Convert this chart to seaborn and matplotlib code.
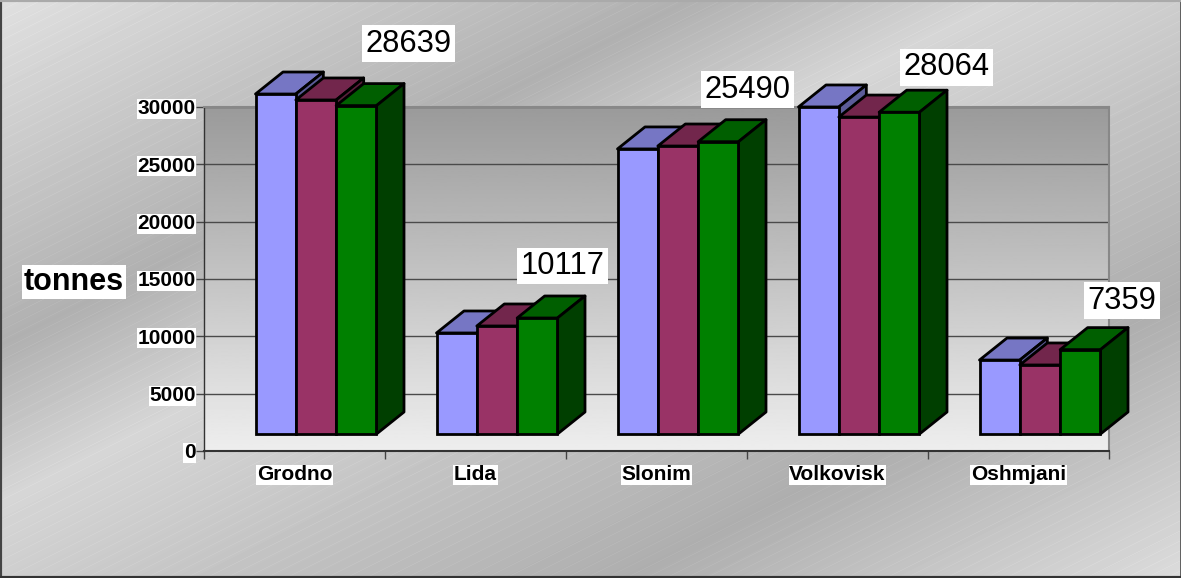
import numpy as np
import pandas as pd
import matplotlib
matplotlib.use("Agg")
import matplotlib.pyplot as plt
from matplotlib.patches import Polygon
from matplotlib.transforms import ScaledTranslation
import seaborn as sns

# ---- data ----
districts = ["Grodno", "Lida", "Slonim", "Volkovisk", "Oshmjani"]
series_a = [29650, 8810, 24860, 28520, 6450]
series_b = [29130, 9420, 25115, 27640, 6020]
series_c = [28639, 10117, 25490, 28064, 7359]
series_names = ["Series A", "Series B", "Series C"]
y_ticks = [0, 5000, 10000, 15000, 20000, 25000, 30000]

# ---- style ----
W, H, DPI = 1181, 578, 100
front_colors = ["#9999FF", "#993366", "#008000"]
top_colors = ["#7676C4", "#72264C", "#005F00"]
side_colors = ["#5C5C99", "#5C1F3D", "#003F00"]
label_offsets_px = [(52, 62), (25, 52), (29.5, 52), (47.5, 45), (41.5, 49)]
SHIFT_X, SHIFT_Y = 21.5, 17    # front plane of bars relative to the axis, px
DEPTH_X, DEPTH_Y = 27.5, 22    # 3D depth, px
EDGE = 2.0

sns.set_style("white")
plt.rcParams["font.family"] = ["Liberation Sans", "DejaVu Sans"]

fig = plt.figure(figsize=(W / DPI, H / DPI), dpi=DPI)

# figure background: banded diagonal gradient with fine light stripes
bg = fig.add_axes([0, 0, 1, 1], zorder=-3)
yy, xx = np.mgrid[0:H, 0:W]
phase = xx + 2.0 * yy
shade = np.interp(phase, [0, 690, 1000, 1780, 2337], [224, 176, 214, 174, 220])
stripes = ((phase.astype(int) % 20) < 2) * 5
bg.imshow(np.clip(shade + stripes, 0, 255), cmap="gray", vmin=0, vmax=255,
          aspect="auto", interpolation="nearest", extent=(0, 1, 0, 1))
bg.set_xticks([])
bg.set_yticks([])
for name, col, lw in [("left", "#444444", 3), ("bottom", "#333333", 3),
                      ("right", "#555555", 2), ("top", "#AAAAAA", 3)]:
    bg.spines[name].set_visible(True)
    bg.spines[name].set_color(col)
    bg.spines[name].set_linewidth(lw)

# plot area
L, R, T, B = 204, 1109, 107, 451
pos = [L / W, 1 - B / H, (R - L) / W, (B - T) / H]
wall = fig.add_axes(pos, zorder=-2)
wall.imshow(np.linspace(154, 238, 256).reshape(-1, 1), cmap="gray", vmin=0, vmax=255,
            aspect="auto", extent=(0, 1, 0, 1))
wall.axis("off")

ax = fig.add_axes(pos, zorder=1)
ax.patch.set_alpha(0)

df = pd.DataFrame({
    "district": districts * 3,
    "tonnes": series_a + series_b + series_c,
    "series": np.repeat(series_names, len(districts)),
})
sns.barplot(data=df, x="district", y="tonnes", hue="series", order=districts,
            hue_order=series_names, palette=front_colors, saturation=1,
            width=0.6685, gap=0, edgecolor="black", linewidth=EDGE,
            legend=False, ax=ax)

ax.set_xlim(-0.5, len(districts) - 0.5)
ax.set_ylim(0, 30000)
ax.set_yticks(y_ticks)
ax.set_xticks(np.arange(len(districts) + 1) - 0.5, minor=True)
ax.set_xlabel("")
ax.set_ylabel("tonnes", rotation=0, fontsize=22, fontweight="bold", color="black",
              ha="center", va="center",
              bbox=dict(facecolor="white", edgecolor="none", pad=1))
ax.yaxis.set_label_coords((74 - L) / (R - L), (B - 282) / (B - T))

ax.set_axisbelow(True)
ax.grid(axis="y", color="#4A4A4A", linewidth=1)
ax.grid(axis="x", visible=False)
ax.tick_params(axis="y", left=True, length=6, width=1, color="#444444", pad=0)
ax.tick_params(axis="x", which="major", bottom=False, length=0, pad=10.2)
ax.tick_params(axis="x", which="minor", bottom=True, length=6, width=1, color="#444444")
for lab in ax.get_xticklabels() + ax.get_yticklabels():
    lab.set_fontsize(15)
    lab.set_fontweight("bold")
    lab.set_color("black")
    lab.set_bbox(dict(facecolor="white", edgecolor="none", pad=0.5))
for name, col, lw in [("left", "#333333", 1), ("bottom", "#333333", 1.5),
                      ("right", "#888888", 1.5), ("top", "#888888", 1.5)]:
    ax.spines[name].set_visible(True)
    ax.spines[name].set_color(col)
    ax.spines[name].set_linewidth(lw)

# 3D extrusion built from the bars seaborn drew
shifted = ax.transData + ScaledTranslation(SHIFT_X / DPI, SHIFT_Y / DPI, fig.dpi_scale_trans)
px_x = 1 / (ax.transData.transform((1, 0))[0] - ax.transData.transform((0, 0))[0])
px_y = 1 / (ax.transData.transform((0, 1))[1] - ax.transData.transform((0, 0))[1])
dx, dy = DEPTH_X * px_x, DEPTH_Y * px_y

for g in range(len(districts)):
    for s, container in enumerate(ax.containers):
        bar = container.patches[g]
        x0, w, h = bar.get_x(), bar.get_width(), bar.get_height()
        base = 10 + g * 10 + s * 3
        bar.set_transform(shifted)
        bar.set_clip_on(False)
        bar.set_zorder(base + 2)
        top = Polygon([(x0, h), (x0 + dx, h + dy), (x0 + w + dx, h + dy), (x0 + w, h)],
                      closed=True, facecolor=top_colors[s], edgecolor="black", linewidth=EDGE,
                      joinstyle="round", transform=shifted, clip_on=False, zorder=base)
        side = Polygon([(x0 + w, 0), (x0 + w + dx, dy), (x0 + w + dx, h + dy), (x0 + w, h)],
                       closed=True, facecolor=side_colors[s], edgecolor="black", linewidth=EDGE,
                       joinstyle="round", transform=shifted, clip_on=False, zorder=base + 1)
        ax.add_patch(top)
        ax.add_patch(side)
        if s == len(ax.containers) - 1:
            ox, oy = label_offsets_px[g]
            ax.annotate(str(int(h)), xy=(x0 + w / 2, h), xycoords="data",
                        xytext=((ox + SHIFT_X) * 72 / DPI, (oy + SHIFT_Y) * 72 / DPI),
                        textcoords="offset points", ha="center", va="center",
                        fontsize=22.2, color="black", zorder=100, annotation_clip=False,
                        bbox=dict(facecolor="white", edgecolor="none", pad=2.5))

fig.savefig("out.png", dpi=DPI)
